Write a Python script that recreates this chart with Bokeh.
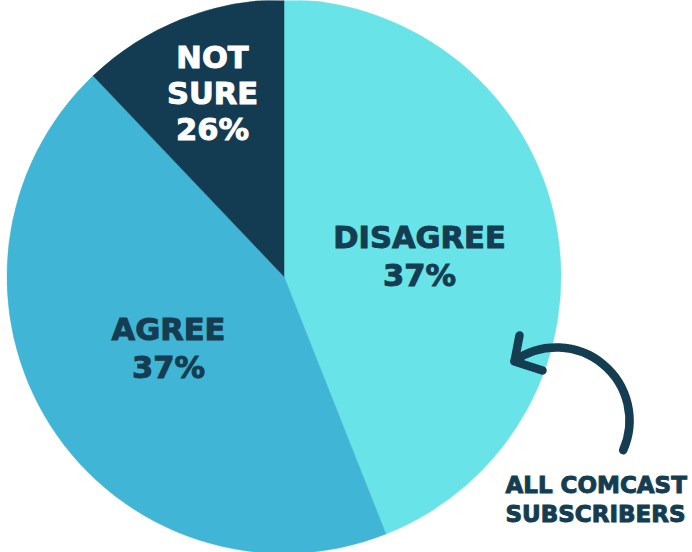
import numpy as np
from bokeh.plotting import figure
from bokeh.models import Range1d, ColumnDataSource
from bokeh.core.properties import value
from bokeh.embed import file_html
from bokeh.resources import INLINE

# ---- data ----
categories = ["DISAGREE", "AGREE", "NOT SURE"]
label_lines = [["DISAGREE", "37%"], ["AGREE", "37%"], ["NOT", "SURE", "26%"]]
slice_shares = [44.0, 43.9, 12.1]          # visual share of each wedge (percent of circle)
note_lines = ["ALL COMCAST", "SUBSCRIBERS"]

# ---- style ----
colors = ["#68E4E8", "#41B5D5", "#133C52"]
text_colors = ["#143D52", "#143D52", "#FFFFFF"]
label_centers = [(419, 257), (168, 349), (212, 93.5)]   # screen px (x, y from top)

W, H = 692, 552
CX, CY, R = 283.5, 276.0, 277.0
FONT = value("DejaVu Sans")
FS_LABEL, FS_NOTE = 30.5, 23
DESC = 0.35  # empirical baseline correction (fraction of font size)

p = figure(width=W, height=H, output_backend="svg", toolbar_location=None,
           x_range=Range1d(0, W), y_range=Range1d(0, H),
           min_border=0, outline_line_color=None, background_fill_color="white",
           border_fill_color="white")
p.axis.visible = False
p.xgrid.visible = False
p.ygrid.visible = False

# wedges: start at 12 o'clock, go clockwise
cum = np.cumsum([0] + slice_shares)
ang_deg = 90 - cum * 3.6
starts = np.radians(ang_deg[1:])
ends = np.radians(ang_deg[:-1])
src = ColumnDataSource(dict(x=[CX] * 3, y=[CY] * 3, start=starts, end=ends,
                            color=colors, cat=categories))
p.wedge(x="x", y="y", radius=R, start_angle="start", end_angle="end",
        fill_color="color", line_color="color", line_width=0.5, source=src)

# labels
for i, lines in enumerate(label_lines):
    lx, ly_top = label_centers[i]
    if len(lines) == 2:
        offs = [-9, 29]
    else:
        offs = [-25.5, 10, 46.5]
    xs = [lx] * len(lines)
    ys = [H - (ly_top + o) + DESC * FS_LABEL for o in offs]
    p.text(x=xs, y=ys, text=lines, text_font=FONT, text_font_style="bold",
           text_font_size=f"{FS_LABEL}px", text_color=text_colors[i], text_align="center",
           text_baseline="alphabetic", text_outline_color=text_colors[i])

# annotation arrow
ACX, ACY, AR = 556, H - 420, 73
p.arc(x=[ACX], y=[ACY], radius=AR, start_angle=np.radians(-24), end_angle=np.radians(125),
      direction="anticlock", line_color="#143D52", line_width=8.5, line_cap="round")
tip = (514, H - 361)
p.multi_line(xs=[[519, tip[0], 542]], ys=[[H - 335, tip[1], H - 370]],
             line_color="#143D52", line_width=8.5, line_cap="round", line_join="round")

p.text(x=[505, 505], y=[H - 493 + DESC * FS_NOTE, H - 522 + DESC * FS_NOTE], text=note_lines,
       text_font=FONT, text_font_style="bold", text_font_size=f"{FS_NOTE}px",
       text_color="#143D52", text_align="left", text_baseline="alphabetic",
       text_outline_color="#143D52")

open("out.html", "w").write(file_html(p, INLINE))
